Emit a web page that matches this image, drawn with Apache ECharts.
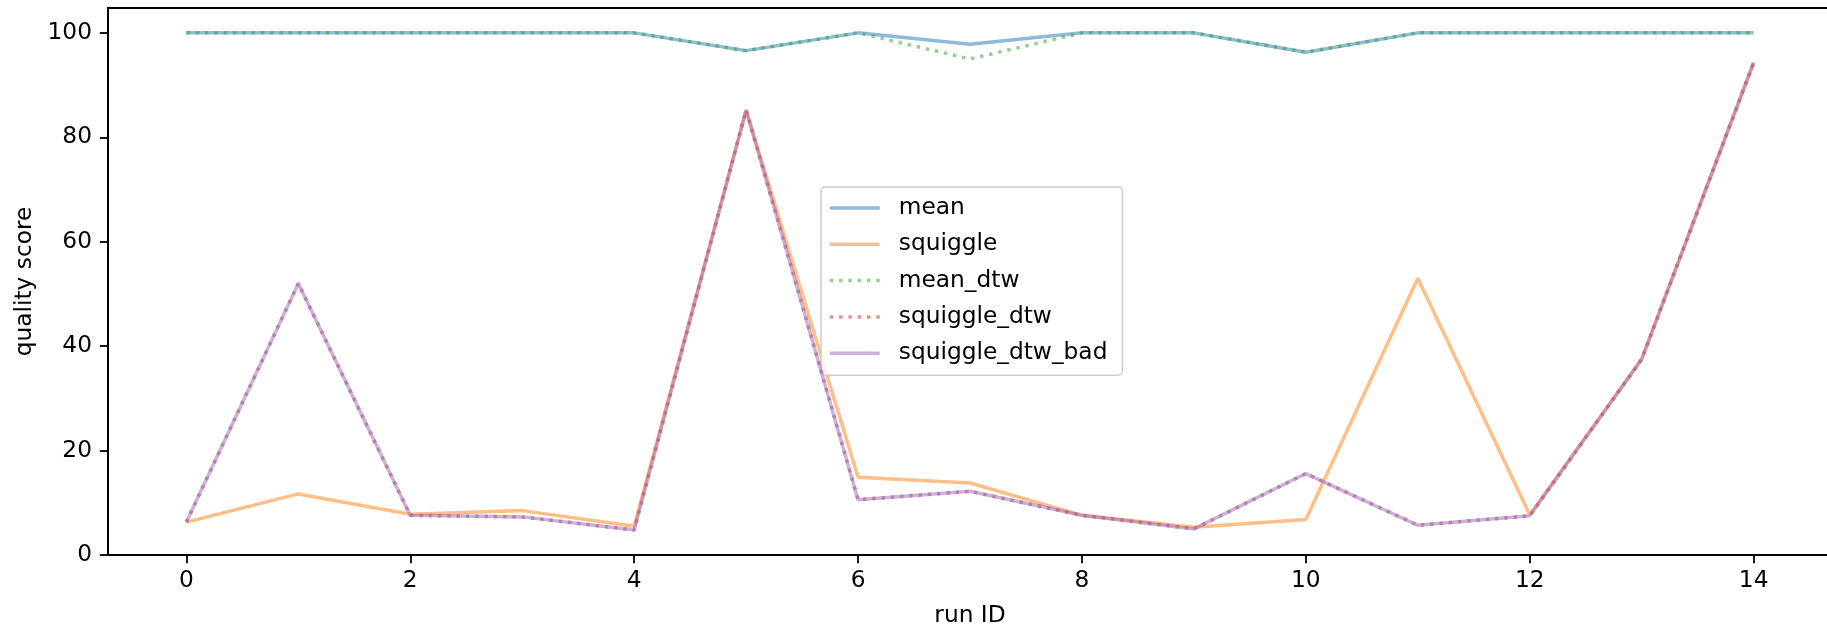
<!DOCTYPE html>
<html>
<head>
<meta charset="utf-8">
<script src="https://cdn.jsdelivr.net/npm/echarts@6/dist/echarts.min.js"></script>
<style>
   html, body { margin: 0; padding: 0; background: #ffffff; overflow: hidden; }
   #chart { width: 1840px; height: 628px; }
</style>
</head>
<body>
<div id="chart"></div>
<script>

// run IDs on the x axis
const runIds = [0, 1, 2, 3, 4, 5, 6, 7, 8, 9, 10, 11, 12, 13, 14];

// quality scores per run
const mean           = [100, 100, 100, 100, 100, 96.6, 100, 97.8, 100, 100, 96.3, 100, 100, 100, 100];
const squiggle       = [6.3, 11.7, 7.8, 8.5, 5.5, 85.2, 14.9, 13.8, 7.6, 5.3, 6.8, 53.0, 7.7, 37.5, 94.3];
const meanDtw        = [100, 100, 100, 100, 100, 96.6, 100, 95.0, 100, 100, 96.3, 100, 100, 100, 100];
const squiggleDtw    = [6.3, 52.0, 7.6, 7.3, 4.8, 85.2, 10.6, 12.2, 7.6, 5.0, 15.6, 5.7, 7.5, 37.5, 94.3];
const squiggleDtwBad = [6.3, 52.0, 7.6, 7.3, 4.8, 85.2, 10.6, 12.2, 7.6, 5.0, 15.6, 5.7, 7.5, 37.5, 94.3];

// tick labels
const xTicks = [0, 2, 4, 6, 8, 10, 12, 14];
const yTicks = [0, 20, 40, 60, 80, 100];

const seriesNames = ['mean', 'squiggle', 'mean_dtw', 'squiggle_dtw', 'squiggle_dtw_bad'];
const seriesData  = [mean, squiggle, meanDtw, squiggleDtw, squiggleDtwBad];
const seriesColors = [
   'rgba(31,119,180,0.5)',
   'rgba(255,127,14,0.5)',
   'rgba(44,160,44,0.5)',
   'rgba(214,39,40,0.5)',
   'rgba(148,103,189,0.5)'
];
const dotted = [3.5, 5.8];
const seriesDash = ['solid', 'solid', dotted, dotted, 'solid'];

const font = 'DejaVu Sans';

function buildSeries()
{
   const series = [];
   for (let i = 0; i < seriesNames.length; i++)
   {
      series.push(
      {
         type: 'line',
         name: seriesNames[i],
         data: runIds.map((x, j) => [x, seriesData[i][j]]),
         symbol: 'none',
         color: seriesColors[i],
         lineStyle: { width: 3.5, color: seriesColors[i], type: seriesDash[i], cap: 'butt' },
         z: 2 + i
      });
   }
   return series;
}

const chart = echarts.init(document.getElementById('chart'), null, { renderer: 'canvas' });

chart.setOption(
{
   animation: false,
   backgroundColor: '#ffffff',
   textStyle: { fontFamily: font },
   grid:
   {
      left: 108, top: 8, width: 1724, height: 547,
      containLabel: false,
      outerBoundsMode: 'none',
      show: true,
      borderColor: '#000000',
      borderWidth: 1.8,
      backgroundColor: 'transparent'
   },
   legend:
   {
      orient: 'vertical',
      left: 821,
      top: 187,
      data: seriesNames,
      itemWidth: 50,
      itemHeight: 26,
      itemGap: 10.3,
      padding: [8, 15, 9, 7],
      backgroundColor: 'rgba(255,255,255,0.8)',
      borderColor: '#cccccc',
      borderWidth: 1.5,
      borderRadius: 4,
      // hide the round marker, keep only the line
      itemStyle: { opacity: 0, borderWidth: 0 },
      lineStyle: { width: 3.5 },
      textStyle: { fontFamily: font, fontSize: 23.3, lineHeight: 26, color: '#000000', padding: [0, 0, 0, 14] }
   },
   xAxis:
   {
      type: 'value',
      min: -0.7,
      max: 14.7,
      name: 'run ID',
      nameLocation: 'middle',
      nameGap: 49,
      nameTextStyle: { fontFamily: font, fontSize: 23.3, color: '#000000' },
      splitLine: { show: false },
      axisLine: { show: true, onZero: false, lineStyle: { color: '#000000', width: 1.8 } },
      axisTick: { show: true, length: 8.2, lineStyle: { color: '#000000', width: 1.8 }, customValues: xTicks },
      axisLabel: { fontFamily: font, fontSize: 23.3, color: '#000000', margin: 14, customValues: xTicks }
   },
   yAxis:
   {
      type: 'value',
      min: 0,
      max: 104.76,
      name: 'quality score',
      nameLocation: 'middle',
      nameGap: 70,
      nameTextStyle: { fontFamily: font, fontSize: 23.3, color: '#000000' },
      splitLine: { show: false },
      axisLine: { show: true, onZero: false, lineStyle: { color: '#000000', width: 1.8 } },
      axisTick: { show: true, length: 8.2, lineStyle: { color: '#000000', width: 1.8 }, customValues: yTicks },
      axisLabel: { fontFamily: font, fontSize: 23.3, color: '#000000', margin: 16, customValues: yTicks }
   },
   series: buildSeries()
});

</script>
</body>
</html>
